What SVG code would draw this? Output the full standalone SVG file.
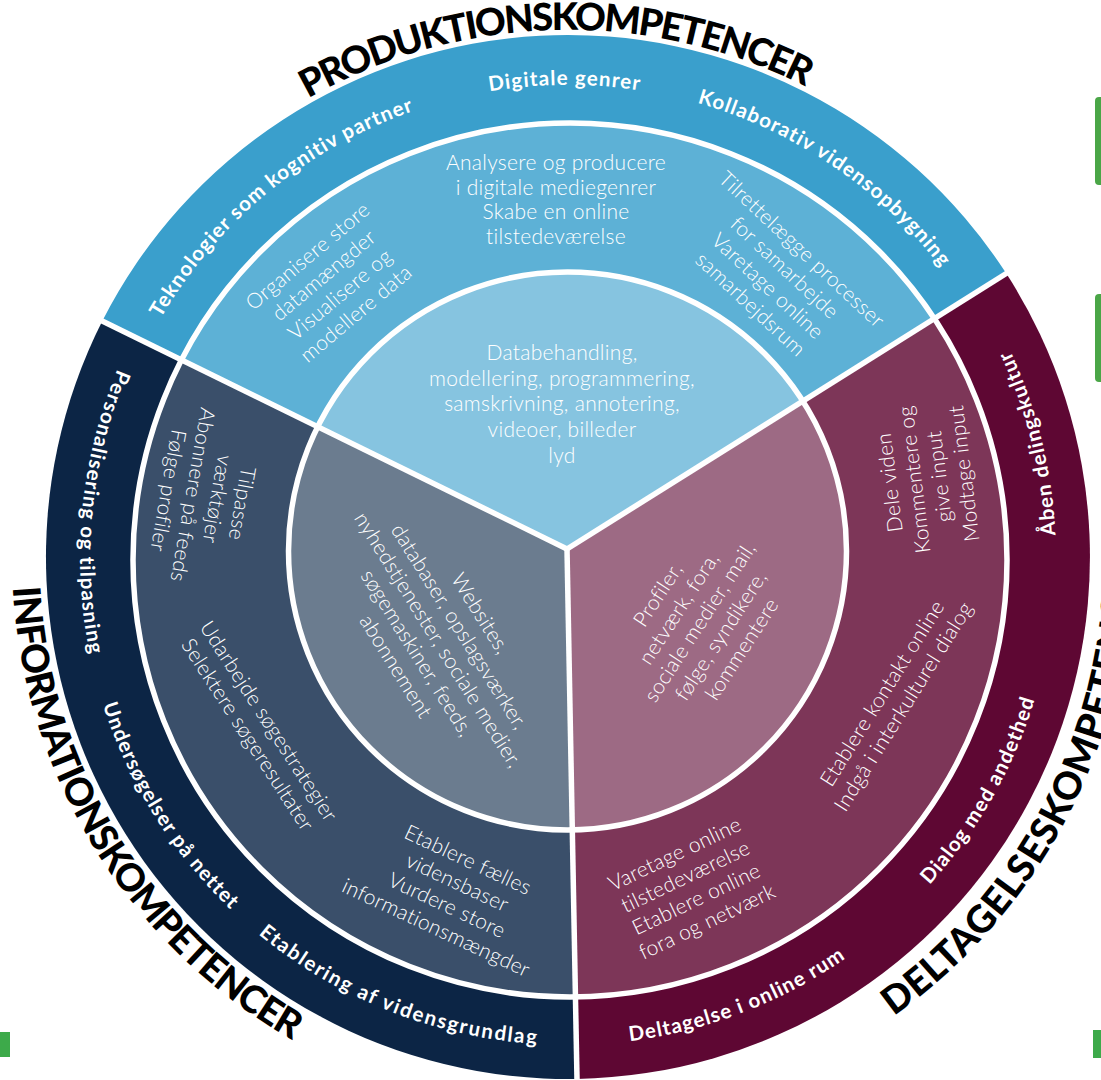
<svg xmlns="http://www.w3.org/2000/svg" width="1101" height="1080" viewBox="0 0 1101 1080">
<defs>
<style>
.mid{fill:#fff;font-family:Lato,"Open Sans",sans-serif;font-weight:300;font-size:21px;letter-spacing:0.3px;text-anchor:middle}
.lbl{fill:#fff;font-family:Lato,"Open Sans",sans-serif;font-weight:700;font-size:20.5px;letter-spacing:1.1px;text-anchor:middle}
.ttl{fill:#000;font-family:Lato,"Open Sans",sans-serif;font-weight:900;font-size:38px}
.sep{stroke:#fff;stroke-width:5.5;fill:none}
</style>
<path id="arcTop" d="M 124.5 718.4 A 472 472 0 1 1 1011.5 718.4"/>
<path id="arcTitleTop" d="M 72.8 737.2 A 527 527 0 1 1 1063.2 737.2"/>
<path id="arcBot" d="M 194.2 243.3 A 488 488 0 1 0 941.8 243.3"/>
<path id="arcTitleBot" d="M 142.1 199.6 A 556 556 0 1 0 993.9 199.6"/>
<path id="arcTitleBot2" d="M 136.7 195.1 A 563 563 0 1 0 999.3 195.1"/>
</defs>
<rect width="1101" height="1080" fill="#fff"/>

<g id="outer-ring">
<path d="M567 549 L102.3 321.1 A522 522 0 0 1 1006 273.1 Z" fill="#3a9fcc"/>
<path d="M567 549 L1006 273.1 A522 522 0 0 1 577 1078.9 Z" fill="#5e0733"/>
<path d="M567 549 L577 1078.9 A522 522 0 0 1 102.3 321.1 Z" fill="#0c2545"/>
</g>
<g id="middle-ring">
<path d="M567 549 L181.4 359.9 A437 437 0 0 1 934 318.3 Z" fill="#5db1d6"/>
<path d="M567 549 L934 318.3 A437 437 0 0 1 575.5 996.9 Z" fill="#7d3658"/>
<path d="M567 549 L575.5 996.9 A437 437 0 0 1 181.4 359.9 Z" fill="#3a4f6a"/>
</g>
<g id="inner-circle">
<path d="M567 549 L317.7 426.7 A279 279 0 0 1 802.7 400.9 Z" fill="#86c4e0"/>
<path d="M567 549 L802.7 400.9 A279 279 0 0 1 572.3 829.9 Z" fill="#9d6a84"/>
<path d="M567 549 L572.3 829.9 A279 279 0 0 1 317.7 426.7 Z" fill="#6b7c8f"/>
</g>
<g id="separators">
<circle class="sep" cx="570" cy="560" r="437"/>
<circle class="sep" cx="567.5" cy="551" r="279"/>
<line class="sep" x1="567" y1="549" x2="92" y2="316"/>
<line class="sep" x1="567" y1="549" x2="1015" y2="268"/>
<line class="sep" x1="567" y1="549" x2="577.2" y2="1090"/>
</g>

<g id="titles">
<text class="ttl"><textPath href="#arcTitleTop" startOffset="998.9" text-anchor="middle" textLength="518" lengthAdjust="spacing">PRODUKTIONSKOMPETENCER</textPath></text>
<text class="ttl"><textPath href="#arcTitleBot" startOffset="695.8" text-anchor="middle" textLength="555" lengthAdjust="spacing">INFORMATIONSKOMPETENCER</textPath></text>
<text class="ttl"><textPath href="#arcTitleBot2" startOffset="1624.3" textLength="545" lengthAdjust="spacing">DELTAGELSESKOMPETENCER</textPath></text>
</g>

<g id="outer-labels">
<text class="lbl"><textPath href="#arcTop" startOffset="582.4">Teknologier som kognitiv partner</textPath></text>
<text class="lbl"><textPath href="#arcTop" startOffset="902.9">Digitale genrer</textPath></text>
<text class="lbl"><textPath href="#arcTop" startOffset="1187.1">Kollaborativ vidensopbygning</textPath></text>
<text class="lbl"><textPath href="#arcBot" startOffset="293.8">Personalisering og tilpasning</textPath></text>
<text class="lbl"><textPath href="#arcBot" startOffset="613.2">Undersøgelser på nettet</textPath></text>
<text class="lbl"><textPath href="#arcBot" startOffset="924.1" textLength="305" lengthAdjust="spacing">Etablering af vidensgrundlag</textPath></text>
<text class="lbl"><textPath href="#arcBot" startOffset="1286.1">Deltagelse i online rum</textPath></text>
<text class="lbl"><textPath href="#arcBot" startOffset="1621.7">Dialog med andethed</textPath></text>
<text class="lbl"><textPath href="#arcBot" startOffset="1991.3">Åben delingskultur</textPath></text>
</g>

<g id="middle-texts">
<text class="mid"><tspan x="556" y="170">Analysere og producere</tspan><tspan x="556" y="195">i digitale mediegenrer</tspan><tspan x="556" y="219">Skabe en online</tspan><tspan x="556" y="244">tilstedeværelse</tspan></text>
<text class="mid" transform="translate(332 285) rotate(-40)"><tspan x="0" y="-30.5">Organisere store</tspan><tspan x="0" y="-5.5">datamængder</tspan><tspan x="0" y="19.5">Visualisere og</tspan><tspan x="0" y="44.5">modellere data</tspan></text>
<text class="mid" transform="translate(776 277) rotate(43)"><tspan x="0" y="-30.5">Tilrettelægge processer</tspan><tspan x="0" y="-5.5">for samarbejde</tspan><tspan x="0" y="19.5">Varetage online</tspan><tspan x="0" y="44.5">samarbejdsrum</tspan></text>
<text class="mid" transform="translate(205 497) rotate(100)"><tspan x="0" y="-30.5">Tilpasse</tspan><tspan x="0" y="-5.5">værktøjer</tspan><tspan x="0" y="19.5">Abonnere på feeds</tspan><tspan x="0" y="44.5">Følge profiler</tspan></text>
<text class="mid" transform="translate(258 728) rotate(57)"><tspan x="0" y="-5.5">Udarbejde søgestrategier</tspan><tspan x="0" y="19.5">Selektere søgeresultater</tspan></text>
<text class="mid" transform="translate(452 894) rotate(25)"><tspan x="0" y="-30.5">Etablere fælles</tspan><tspan x="0" y="-5.5">vidensbaser</tspan><tspan x="0" y="19.5">Vurdere store</tspan><tspan x="0" y="44.5">informationsmængder</tspan></text>
<text class="mid" transform="translate(927 478) rotate(-97)"><tspan x="0" y="-30.5">Dele viden</tspan><tspan x="0" y="-5.5">Kommentere og</tspan><tspan x="0" y="19.5">give input</tspan><tspan x="0" y="44.5">Modtage input</tspan></text>
<text class="mid" transform="translate(893 700) rotate(-58)"><tspan x="0" y="-5.5">Etablere kontakt online</tspan><tspan x="0" y="19.5">Indgå i interkulturel dialog</tspan></text>
<text class="mid" transform="translate(691 888) rotate(-25.5)"><tspan x="0" y="-30.5">Varetage online</tspan><tspan x="0" y="-5.5">tilstedeværelse</tspan><tspan x="0" y="19.5">Etablere online</tspan><tspan x="0" y="44.5">fora og netværk</tspan></text>
</g>

<g id="inner-texts">
<text class="mid"><tspan x="562" y="360">Databehandling,</tspan><tspan x="562" y="386">modellering, programmering,</tspan><tspan x="562" y="411">samskrivning, annotering,</tspan><tspan x="562" y="437">videoer, billeder</tspan><tspan x="562" y="463">lyd</tspan></text>
<text class="mid" transform="translate(438 640) rotate(58)"><tspan x="0" y="-43">Websites,</tspan><tspan x="0" y="-18">databaser, opslagsværker,</tspan><tspan x="0" y="7">nyhedstjenester, sociale medier,</tspan><tspan x="0" y="32">søgemaskiner, feeds,</tspan><tspan x="0" y="57">abonnement</tspan></text>
<text class="mid" transform="translate(700 622) rotate(-57)"><tspan x="0" y="-43">Profiler,</tspan><tspan x="0" y="-18">netværk, fora,</tspan><tspan x="0" y="7">sociale medier, mail,</tspan><tspan x="0" y="32">følge, syndikere,</tspan><tspan x="0" y="57">kommentere</tspan></text>
</g>

<g id="edge-marks">
<rect x="1095" y="97" width="12" height="88" rx="4" fill="#4aa647"/>
<rect x="1095" y="294" width="12" height="88" rx="4" fill="#4aa647"/>
<rect x="-4" y="1032" width="14" height="25" fill="#3daa4a"/>
<rect x="1093" y="1030" width="12" height="28" fill="#3daa4a"/>
</g>
</svg>
